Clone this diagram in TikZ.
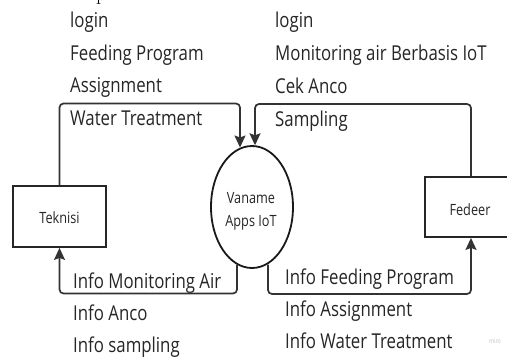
\documentclass[tikz,border=0pt]{standalone}
\usepackage{fontspec}
\setmainfont{Open Sans}[FakeStretch=0.82]
\newfontfamily\lmfont{Latin Modern Roman}
\usetikzlibrary{arrows.meta,shapes.geometric}
\tikzset{
  lbl/.style={anchor=base west,inner sep=0pt,font=\fontsize{20.5}{24}\selectfont,text=black!85},
  inl/.style={anchor=base,inner sep=0pt,font=\fontsize{15.5}{18}\selectfont,text=black!85},
  ent/.style={draw=black!85,line width=1.8pt,rectangle,inner sep=0pt},
  flow/.style={draw=black!80,line width=1.7pt,rounded corners=4pt,-{Stealth[length=12pt,width=11pt,inset=2pt]}},
}
\begin{document}
\begin{tikzpicture}[x=1pt,y=-1pt]
\useasboundingbox (0,0) rectangle (507,357);
\clip (0,0) rectangle (507,357);
\fill[white] (0,0) rectangle (507,357);
% fragment of text above
\node[anchor=base west,inner sep=0pt,font=\lmfont\fontsize{20}{24}\selectfont] (frag) at (96,0.5) {p};
% entities
\node[ent,minimum width=93pt,minimum height=61pt] (tek) at (59.5,216.5) {};
\node[inl] (tekt) at (59.5,223) {Teknisi};
\node[ent,minimum width=92pt,minimum height=60pt] (fed) at (471,207) {};
\node[inl] (fedt) at (470,215) {Fedeer};
\node[draw=black!90,line width=1.8pt,ellipse,minimum width=82pt,minimum height=122pt,inner sep=0pt] (app) at (252,207) {};
\node[inl] (app1) at (251,203) {Vaname};
\node[inl] (app2) at (251,226) {Apps IoT};
% labels
\node[lbl] (l1) at (70,27) {login};
\node[lbl] (l2) at (70,60) {Feeding Program};
\node[lbl] (l3) at (70,92.5) {Assignment};
\node[lbl] (l4) at (70,125) {Water Treatment};
\node[lbl] (r1) at (275,27) {login};
\node[lbl] (r2) at (275,60) {Monitoring air Berbasis IoT};
\node[lbl] (r3) at (275,93) {Cek Anco};
\node[lbl] (r4) at (275,126) {Sampling};
\node[lbl] (bl1) at (73,288) {Info Monitoring Air};
\node[lbl] (bl2) at (73,320) {Info Anco};
\node[lbl] (bl3) at (73,352) {Info sampling};
\node[lbl] (br1) at (285,284) {Info Feeding Program};
\node[lbl] (br2) at (285,316) {Info Assignment};
\node[lbl] (br3) at (285,348) {Info Water Treatment};
\node[anchor=center,inner sep=0pt,font=\fontsize{6.5}{8}\selectfont,text=black!25] (miro) at (495,341) {miro};
% helper coordinates
\coordinate (c1) at (59.5,103.5);
\coordinate (c2) at (240,103.5);
\coordinate (c3) at (255,104);
\coordinate (c4) at (471,104);
\coordinate (b1) at (237,293.5);
\coordinate (b2) at (59.5,293.5);
\coordinate (b3) at (268,294);
\coordinate (b4) at (471,294);
% connectors
\draw[flow] (tek.north) -- (c1) -- (c2) -- (c2 |- app.101.6);
\draw[flow] (fed.north) -- (c4) -- (c3) -- (c3 |- app.87.2);
\draw[flow] (b1 |- app.255.2) -- (b1) -- (b2) -- (tek.south);
\draw[flow] (b3 |- app.285.9) -- (b3) -- (b4) -- (fed.south);
\end{tikzpicture}
\end{document}
